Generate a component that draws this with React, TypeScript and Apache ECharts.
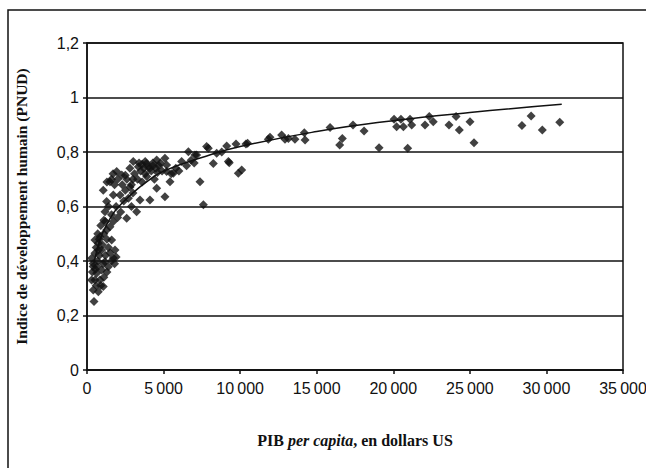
import React, { useEffect, useRef } from "react";
import * as echarts from "echarts";

const gdp: number[] = [
  457, 410, 740, 1060, 520, 850, 630, 960, 1390, 1175, 410, 700, 1600, 1900, 1720, 1200, 520, 960, 1830, 350,
  300, 600, 800, 1000, 1400, 520, 740, 1610, 850, 1100, 1280, 700, 1500, 1720, 900, 1200, 400, 650, 1300, 1100,
  900, 550, 1500, 1800, 750, 1050, 300, 1300, 600,
  1175, 1280, 1060, 1500, 1720, 2160, 2590, 2810, 3240, 3460, 1900, 2200, 2400, 2000, 1600, 2700, 3000, 2900, 1400, 2500,
  2300, 1800, 2600, 1300,
  1940, 2270, 1600, 2000, 3020, 3350, 3890, 4550, 5090, 3100, 3300, 3500, 3700, 3800, 4000, 4200, 4300, 4500, 4700, 4900,
  5200, 5420, 4550, 4110, 5090, 3000, 3600, 4800, 3900, 4400, 5500, 5800, 6000, 5200, 5640, 6180, 6500, 6800, 7000, 6620,
  7050, 7380, 7600, 7160, 7920, 7810, 8250, 8470, 9120, 9230, 9290, 9730, 9880, 10100, 10380, 10490, 8800,
  3400, 3600, 3800, 4100, 4300, 4600, 2800, 2500, 2900, 1700, 1100, 800,
  11840, 11950, 12710, 12930, 13150, 13580, 14190, 14240, 15870, 16500, 16670, 17370, 18090, 19070, 20050, 20220, 20500, 20660, 21090, 21200,
  20940, 22070, 22350, 22610, 23640, 24100, 24310, 25010, 25270, 28400, 29000, 29730, 30870,
];

const hdi: number[] = [
  0.251, 0.294, 0.287, 0.306, 0.33, 0.33, 0.355, 0.367, 0.379, 0.397, 0.391, 0.4, 0.4, 0.415, 0.411, 0.42, 0.428, 0.44, 0.44, 0.36,
  0.41, 0.45, 0.42, 0.46, 0.45, 0.477, 0.465, 0.477, 0.489, 0.5, 0.514, 0.5, 0.526, 0.545, 0.53, 0.545, 0.38, 0.38, 0.36, 0.34,
  0.31, 0.37, 0.43, 0.39, 0.44, 0.39, 0.33, 0.48, 0.31,
  0.581, 0.618, 0.66, 0.691, 0.642, 0.642, 0.557, 0.672, 0.581, 0.624, 0.6, 0.58, 0.62, 0.56, 0.57, 0.63, 0.65, 0.6, 0.6, 0.66,
  0.68, 0.68, 0.7, 0.69,
  0.728, 0.716, 0.7, 0.7, 0.765, 0.746, 0.758, 0.771, 0.777, 0.72, 0.7, 0.73, 0.74, 0.72, 0.745, 0.73, 0.76, 0.74, 0.75, 0.73,
  0.728, 0.691, 0.667, 0.624, 0.636, 0.7, 0.69, 0.76, 0.71, 0.7, 0.72, 0.74, 0.73, 0.752, 0.722, 0.765, 0.75, 0.77, 0.76, 0.801,
  0.789, 0.691, 0.606, 0.789, 0.814, 0.82, 0.758, 0.795, 0.822, 0.765, 0.761, 0.829, 0.722, 0.734, 0.829, 0.832, 0.8,
  0.76, 0.755, 0.765, 0.74, 0.75, 0.725, 0.74, 0.715, 0.68, 0.72, 0.55, 0.48,
  0.847, 0.854, 0.862, 0.847, 0.85, 0.847, 0.871, 0.844, 0.89, 0.826, 0.85, 0.899, 0.877, 0.816, 0.92, 0.893, 0.92, 0.893, 0.92, 0.899,
  0.814, 0.899, 0.93, 0.911, 0.899, 0.93, 0.881, 0.911, 0.834, 0.897, 0.932, 0.881, 0.909,
];

// Trend curve
const trendX: number[] = [450, 700, 1000, 1500, 2000, 3000, 4000, 5000, 7500, 10000, 15000, 20000, 25000, 31000];
const trendY: number[] = [0.39, 0.45, 0.5, 0.555, 0.595, 0.65, 0.695, 0.73, 0.78, 0.82, 0.875, 0.915, 0.945, 0.975];

const xTicks: number[] = [0, 5000, 10000, 15000, 20000, 25000, 30000, 35000];
const yTicks: number[] = [0, 0.2, 0.4, 0.6, 0.8, 1, 1.2];

export default function App() {
  const ref = useRef<HTMLDivElement>(null);
  useEffect(() => {
    if (!ref.current) return;
    const chart = echarts.init(ref.current, null, { renderer: "svg" });
    const serif = "'Liberation Serif', 'DejaVu Serif', serif";
    const sans = "'Liberation Sans', Arial, sans-serif";
    chart.setOption({
      animation: false,
      backgroundColor: "#fff",
      graphic: [
        {
          type: "rect",
          shape: { x: 8, y: 10, width: 700, height: 520 },
          style: { fill: "none", stroke: "#111", lineWidth: 1.5 },
          silent: true,
        },
      ],
      grid: {
        left: 87,
        right: 23,
        top: 43,
        bottom: 98,
        outerBoundsMode: "none",
        containLabel: false,
        show: true,
        borderColor: "#111",
        borderWidth: 1.5,
      },
      xAxis: {
        type: "value",
        min: xTicks[0],
        max: xTicks[xTicks.length - 1],
        interval: 5000,
        name: "{a|PIB }{b|per capita}{a|, en dollars US}",
        nameLocation: "middle",
        nameGap: 62,
        nameTextStyle: {
          rich: {
            a: { fontFamily: serif, fontSize: 16, fontWeight: "bold", color: "#111" },
            b: { fontFamily: serif, fontSize: 16, fontWeight: "bold", fontStyle: "italic", color: "#111" },
          },
        },
        axisLine: { lineStyle: { color: "#111", width: 1.5 } },
        axisTick: { show: true, length: 4, lineStyle: { color: "#111", width: 1.5 } },
        splitLine: { show: false },
        axisLabel: {
          color: "#111",
          fontFamily: sans,
          fontSize: 16,
          margin: 10,
          formatter: (v: number) =>
            v === 0 ? "0" : String(v).replace(/\B(?=(\d{3})+(?!\d))/g, "\u2009"),
        },
      },
      yAxis: {
        type: "value",
        min: yTicks[0],
        max: yTicks[yTicks.length - 1],
        interval: 0.2,
        name: "Indice de développement humain (PNUD)",
        nameLocation: "middle",
        nameGap: 58,
        nameTextStyle: { fontFamily: serif, fontSize: 15.5, fontWeight: "bold", color: "#111" },
        axisLine: { show: true, lineStyle: { color: "#111", width: 1.5 } },
        axisTick: { show: true, length: 4, lineStyle: { color: "#111", width: 1.5 } },
        splitLine: { show: true, lineStyle: { color: "#111", width: 1.5 } },
        axisLabel: {
          color: "#111",
          fontFamily: sans,
          fontSize: 16,
          margin: 8,
          formatter: (v: number) => String(Math.round(v * 10) / 10).replace(".", ","),
        },
      },
      series: [
        {
          type: "scatter",
          symbol: "diamond",
          symbolSize: 9,
          itemStyle: { color: "#111" },
          data: gdp.map((x, i) => [x, hdi[i]]),
        },
        {
          type: "line",
          smooth: true,
          showSymbol: false,
          lineStyle: { color: "#111", width: 1.5 },
          data: trendX.map((x, i) => [x, trendY[i]]),
        },
      ],
    });
    return () => chart.dispose();
  }, []);
  return (
    <div
      ref={ref}
      style={{ position: "fixed", left: 0, top: 0, width: 646, height: 468 }}
    />
  );
}
